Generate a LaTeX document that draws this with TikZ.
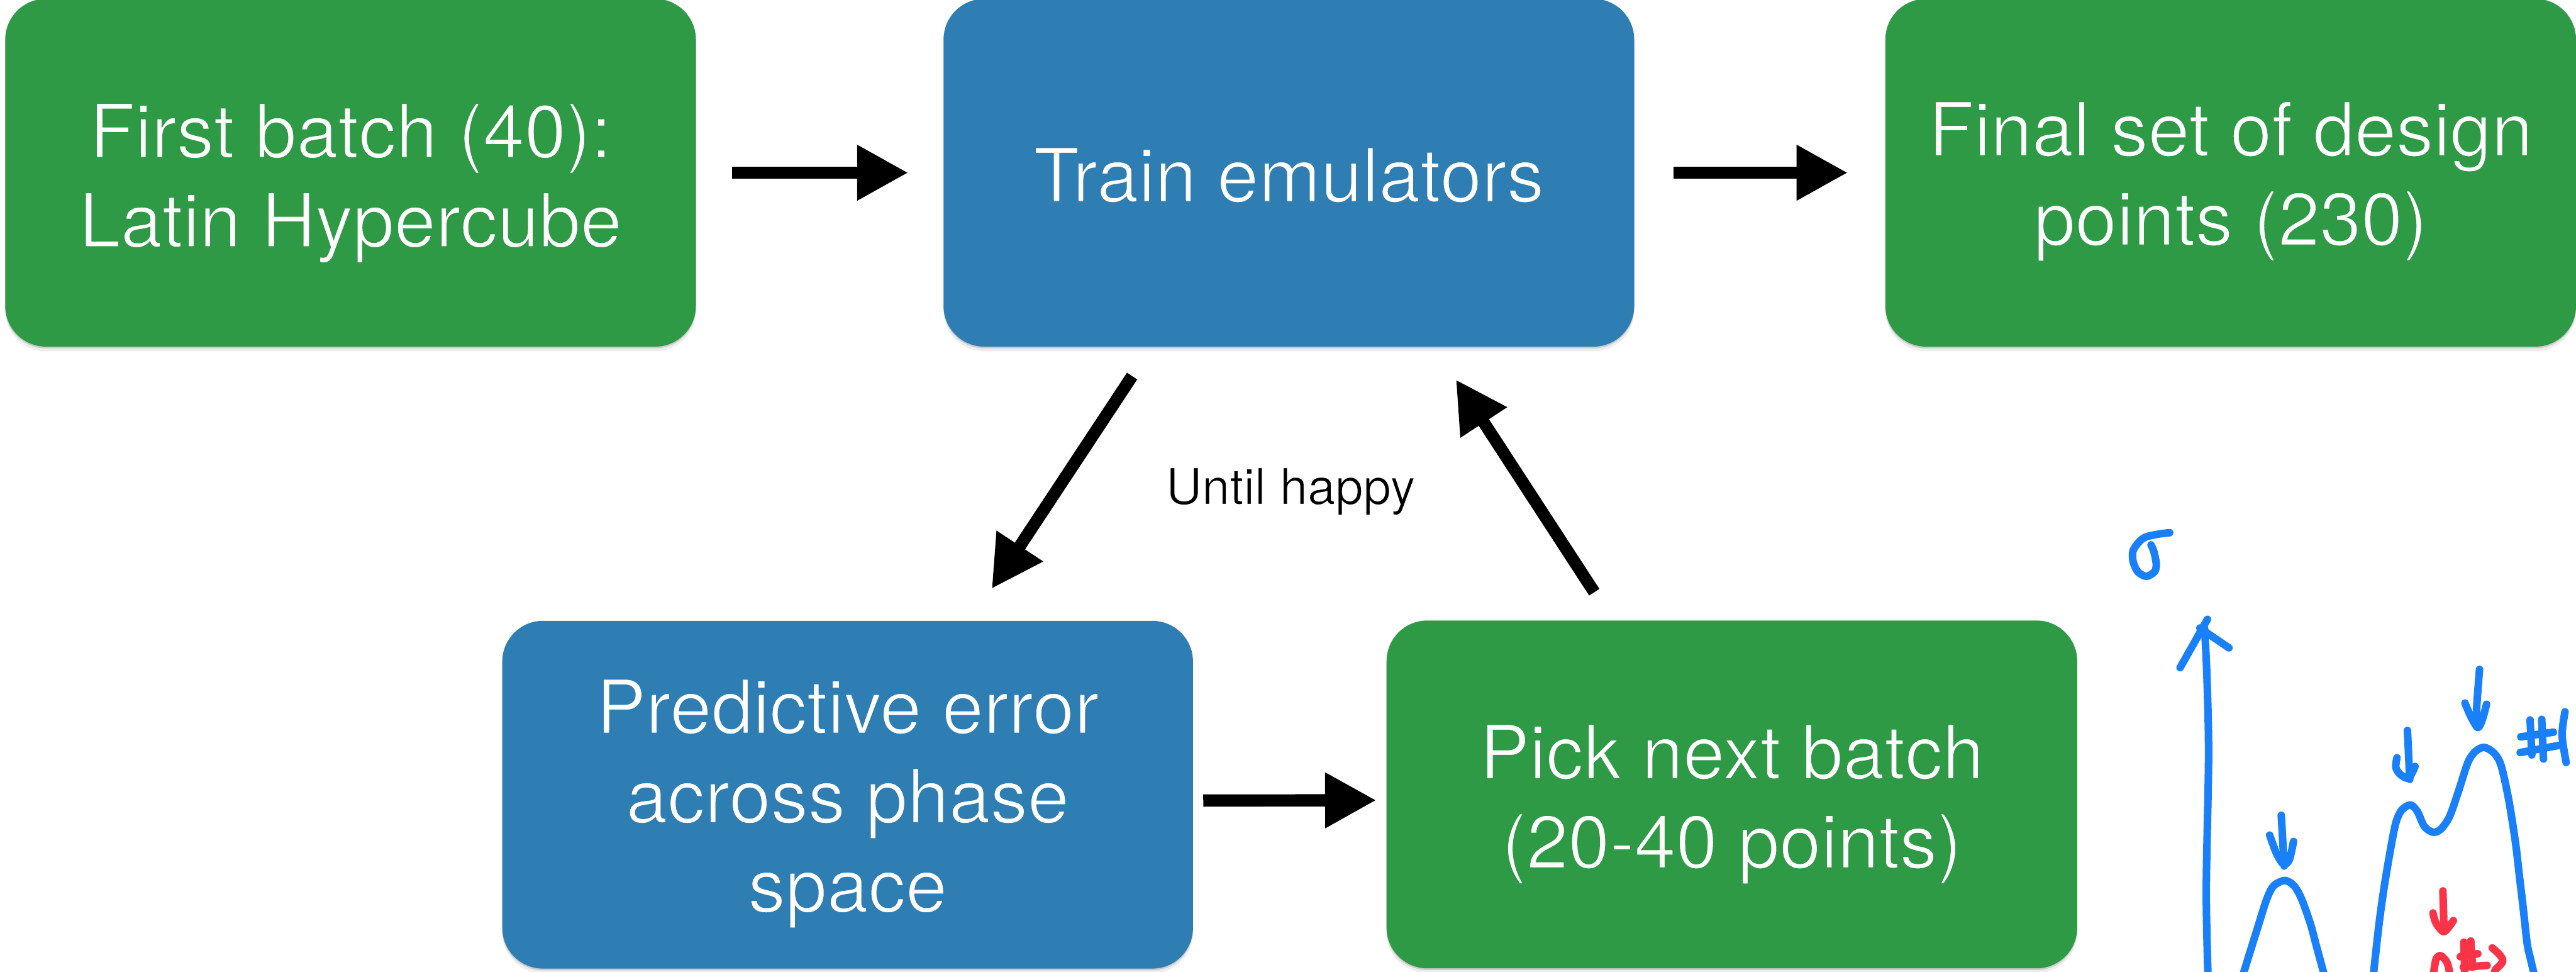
\documentclass[tikz,border=0pt]{standalone}
\usepackage{fontspec}
\setmainfont{TeX Gyre Heros}
\usetikzlibrary{arrows.meta,calc,shadows}

\definecolor{boxgreen}{RGB}{46,154,70}
\definecolor{boxblue}{RGB}{46,125,179}
\definecolor{inkblue}{RGB}{26,128,250}
\definecolor{inkred}{RGB}{250,52,70}

% lighter lettering: glyphs are filled, then their outline is stroked in the
% background colour (#1 = stroke width, #2 = background as "r g b")
\newcommand{\lightglyphs}[3]{\special{pdf:literal direct 2 Tr #1 w #2 RG}#3\special{pdf:literal direct 0 Tr}}
% text block whose first baseline sits #1 above the node centre
\newcommand{\stagetext}[3]{\raisebox{#1}[0pt][0pt]{\lightglyphs{0.7}{#2}{\begin{tabular}[t]{@{}c@{}}#3\end{tabular}}}}
\newcommand{\greentext}[2]{\stagetext{#1}{0.180 0.604 0.275}{#2}}
\newcommand{\bluetext}[2]{\stagetext{#1}{0.180 0.490 0.702}{#2}}

\tikzset{
  stage/.style={rectangle, rounded corners=0.7cm, minimum width=11.88cm,
    minimum height=5.98cm, inner sep=0pt, text=white,
    font=\fontsize{36.5}{43.7}\selectfont,
    drop shadow={shadow xshift=0cm, shadow yshift=-0.03cm, opacity=0.14, fill=black},
    drop shadow={shadow xshift=0cm, shadow yshift=-0.08cm, opacity=0.07, fill=black}},
  greenstage/.style={stage, fill=boxgreen},
  bluestage/.style={stage, fill=boxblue},
  stagearrow/.style={line width=0.21cm, -{Triangle[length=0.88cm, width=0.9cm]}},
  ink/.style={line width=0.13cm, line cap=round, line join=round},
  inkb/.style={ink, draw=inkblue},
  inkr/.style={ink, draw=inkred},
}

\begin{document}
\begin{tikzpicture}
\useasboundingbox (0,0) rectangle (44.31,-16.71);
\clip (0,0) rectangle (44.31,-16.71);
\fill[white] (0,0) rectangle (44.31,-16.71);

% process stages
\node[greenstage] (first) at (6.03,-2.97)
  {\greentext{0.26cm}{First batch (40):\\Latin Hypercube}};
\node[bluestage] (train) at (22.17,-2.97)
  {\bluetext{-0.50cm}{Train emulators}};
\node[greenstage] (final) at (38.37,-2.97)
  {\greentext{0.29cm}{Final set of design\\points (230)}};
\node[bluestage] (error) at (14.58,-13.665)
  {\bluetext{1.055cm}{Predictive error\\across phase\\space}};
\node[greenstage] (pick) at (29.79,-13.66)
  {\greentext{0.27cm}{Pick next batch\\(20-40 points)}};

\node[font=\fontsize{24.5}{29}\selectfont, anchor=base] (happy) at (22.20,-8.67)
  {\lightglyphs{0.4}{1 1 1}{Until happy}};

% connectors
\draw[stagearrow] ([xshift=0.61cm]first.east) -- ([xshift=-0.60cm]train.west);
\draw[stagearrow] ([xshift=0.67cm]train.east) -- ([xshift=-0.64cm]final.west);
\draw[stagearrow] ($(train.south west)+(3.25,-0.50)$) -- ($(error.north west)+(8.425,0.545)$);
\draw[stagearrow] ($(pick.north west)+(3.58,0.48)$) -- ($(train.south west)+(8.82,-0.56)$);
\draw[stagearrow] ([xshift=0.17cm,yshift=-0.1cm]error.east) -- ([xshift=-0.17cm,yshift=-0.1cm]pick.west);

% hand sketch: sigma axis with peaks
\draw[inkb] plot[smooth, tension=0.5] coordinates {(37.32,-9.16) (37.15,-9.18) (36.92,-9.23) (36.80,-9.31) (36.69,-9.47) (36.69,-9.65) (36.77,-9.83) (36.92,-9.91) (37.06,-9.83) (37.09,-9.70) (37.05,-9.49) (37.00,-9.37)};
\draw[inkb] plot[smooth] coordinates {(37.98,-16.80) (37.95,-15.3) (37.99,-13.0) (37.96,-11.6) (37.92,-10.80)};
\draw[inkb] (37.50,-11.48) -- (37.97,-10.65);
\draw[inkb] (37.84,-10.80) -- (38.34,-11.14);

\draw[inkb] plot[smooth] coordinates {(38.57,-16.80) (38.69,-16.41) (38.84,-15.93) (38.99,-15.46) (39.11,-15.23) (39.30,-15.14) (39.46,-15.23) (39.59,-15.46) (39.74,-15.88) (39.84,-16.25) (39.94,-16.62) (39.99,-16.80)};
\draw[inkb] (39.24,-14.02) -- (39.29,-14.89);
\draw[inkb] plot[smooth] coordinates {(39.04,-14.36) (39.16,-14.68) (39.28,-14.86) (39.38,-14.78) (39.45,-14.47)};

\draw[inkb] plot[smooth] coordinates {(40.82,-16.80) (40.92,-15.90) (41.01,-15.25) (41.12,-14.60) (41.21,-14.15) (41.31,-13.93) (41.46,-13.84) (41.58,-13.95) (41.70,-14.21) (41.85,-14.31) (41.98,-14.26) (42.13,-14.05) (42.28,-13.63) (42.45,-13.11) (42.58,-12.92) (42.73,-12.85) (42.90,-12.95) (43.02,-13.16) (43.15,-13.74) (43.27,-14.50) (43.34,-15.10) (43.40,-15.60) (43.47,-16.23) (43.53,-16.50) (43.60,-16.80)};
\draw[inkb] (41.41,-12.56) -- (41.45,-13.40);
\draw[inkb] plot[smooth] coordinates {(41.23,-13.03) (41.21,-13.19) (41.28,-13.31) (41.43,-13.38) (41.54,-13.18)};
\draw[inkb] plot[smooth] coordinates {(42.65,-11.51) (42.60,-12.20) (42.62,-12.48)};
\draw[inkb] plot[smooth] coordinates {(42.40,-12.09) (42.50,-12.32) (42.62,-12.51) (42.70,-12.37) (42.77,-12.11)};

% "#1"
\draw[inkb] (43.52,-12.38) -- (43.55,-12.98);
\draw[inkb] (43.72,-12.37) -- (43.75,-13.05);
\draw[inkb] (43.36,-12.67) -- (43.92,-12.59);
\draw[inkb] (43.35,-12.94) -- (44.00,-12.82);
\draw[inkb] plot[smooth] coordinates {(44.12,-12.24) (44.07,-12.64) (44.14,-13.11)};

% red mark "#2"
\draw[inkr] (42.02,-15.32) -- (42.04,-16.00);
\draw[inkr] plot[smooth] coordinates {(41.85,-15.70) (41.90,-15.87) (42.04,-16.02) (42.20,-15.83)};
\draw[inkr] plot[smooth] coordinates {(41.85,-16.80) (41.90,-16.50) (41.97,-16.43) (42.03,-16.47) (42.10,-16.57) (42.15,-16.80)};
\draw[inkr] (42.38,-16.20) -- (42.40,-16.80);
\draw[inkr] (42.50,-16.18) -- (42.53,-16.63);
\draw[inkr] (42.32,-16.45) -- (42.62,-16.40);
\draw[inkr] (42.37,-16.63) -- (42.78,-16.60);
\draw[inkr] plot[smooth] coordinates {(42.87,-16.30) (43.00,-16.42) (43.05,-16.52) (43.00,-16.60) (42.92,-16.68) (42.90,-16.80)};
\end{tikzpicture}
\end{document}
